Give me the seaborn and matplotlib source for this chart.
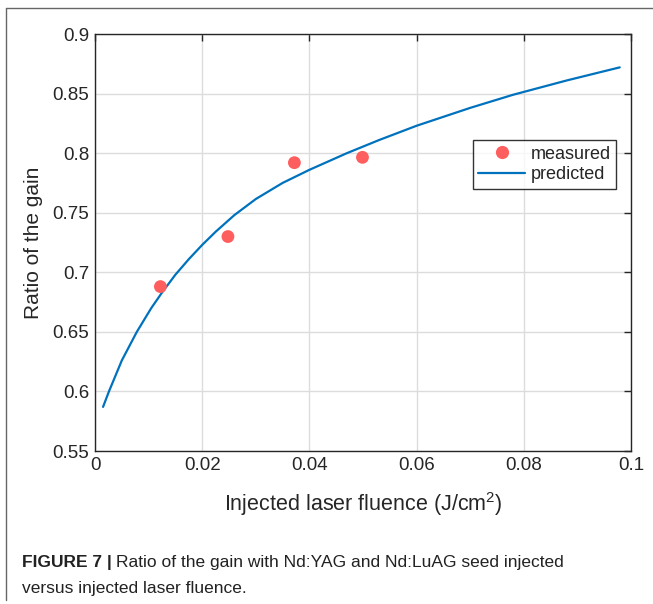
import matplotlib
matplotlib.use("Agg")
import matplotlib.pyplot as plt
import seaborn as sns
from matplotlib.lines import Line2D

# -----------------------------
# Data
# -----------------------------
measured_x = [0.0122, 0.0248, 0.0372, 0.0499]
measured_y = [0.688, 0.730, 0.792, 0.7965]

predicted_x = [0.0015, 0.0026, 0.005, 0.0078, 0.0105, 0.0125, 0.015, 0.0175,
               0.02, 0.0225, 0.026, 0.03, 0.035, 0.04, 0.047, 0.053, 0.06,
               0.07, 0.078, 0.088, 0.0979]
predicted_y = [0.587, 0.600, 0.626, 0.650, 0.670, 0.683, 0.698, 0.711,
               0.723, 0.734, 0.748, 0.7615, 0.775, 0.786, 0.800, 0.811, 0.823,
               0.838, 0.849, 0.861, 0.872]

x_ticks = [0, 0.02, 0.04, 0.06, 0.08, 0.1]
x_tick_labels = ["0", "0.02", "0.04", "0.06", "0.08", "0.1"]
y_ticks = [0.55, 0.6, 0.65, 0.7, 0.75, 0.8, 0.85, 0.9]
y_tick_labels = ["0.55", "0.6", "0.65", "0.7", "0.75", "0.8", "0.85", "0.9"]

# -----------------------------
# Style
# -----------------------------
sns.set_style("white")
plt.rcParams["font.family"] = ["Liberation Sans", "DejaVu Sans"]
plt.rcParams["mathtext.fontset"] = "custom"
plt.rcParams["mathtext.rm"] = "Liberation Sans"
plt.rcParams["mathtext.it"] = "Liberation Sans"

text_col = "#262626"

fig = plt.figure(figsize=(6.53, 6.04), dpi=100)
ax = fig.add_axes([0.1455, 0.2533, 0.8208, 0.6904])

sns.lineplot(x=predicted_x, y=predicted_y, ax=ax, color="#0072BD",
             linewidth=1.6, label="predicted", zorder=3)
sns.scatterplot(x=measured_x, y=measured_y, ax=ax, color="#FF5E5E",
                s=85, edgecolor="none", label="measured", zorder=4)

ax.set_xlim(0, 0.1)
ax.set_ylim(0.55, 0.9)
ax.set_xticks(x_ticks)
ax.set_xticklabels(x_tick_labels)
ax.set_yticks(y_ticks)
ax.set_yticklabels(y_tick_labels)

ax.grid(True, color="#dcdcdc", linewidth=1.0)
ax.set_axisbelow(True)
for sp in ax.spines.values():
    sp.set_color(text_col)
    sp.set_linewidth(1.0)
ax.tick_params(direction="in", length=5, width=1.0, colors=text_col,
               labelsize=13.5, top=True, right=True, pad=4)
for lab in ax.get_xticklabels() + ax.get_yticklabels():
    lab.set_color(text_col)

ax.set_xlabel("Injected laser fluence (J/cm$^2$)", fontsize=15.5,
              color=text_col, labelpad=12)
ax.set_ylabel("Ratio of the gain", fontsize=15, color=text_col, labelpad=7)

handles = [
    Line2D([], [], marker="o", linestyle="none", markersize=9.5,
           markerfacecolor="#FF5E5E", markeredgecolor="none"),
    Line2D([], [], color="#0072BD", linewidth=1.6),
]
leg = ax.legend(handles, ["measured", "predicted"], loc="upper right",
                bbox_to_anchor=(0.972, 0.745), fontsize=13, frameon=True,
                fancybox=False, handlelength=2.6, handletextpad=0.3,
                borderpad=0.3, labelspacing=0.2, borderaxespad=0)
leg.get_frame().set_edgecolor("#000000")
leg.get_frame().set_linewidth(1.0)
for t in leg.get_texts():
    t.set_color(text_col)

# -----------------------------
# Caption and border
# -----------------------------
fig.add_artist(Line2D([6 / 653, 1.0], [1 - 8 / 604, 1 - 8 / 604],
                      transform=fig.transFigure, color="#666666", linewidth=1.0))
fig.add_artist(Line2D([6 / 653, 6 / 653], [1 - 8 / 604, 1 - 600 / 604],
                      transform=fig.transFigure, color="#666666", linewidth=1.0))

cap_size = 12.5
bold = fig.text(22 / 653, 1 - 567 / 604, "FIGURE 7 |", fontsize=cap_size,
                fontweight="bold", color="#222222", va="baseline")
fig.canvas.draw()
bb = bold.get_window_extent()
x_next = (bb.x1 + 4) / fig.bbox.width
fig.text(x_next, 1 - 567 / 604,
         "Ratio of the gain with Nd:YAG and Nd:LuAG seed injected",
         fontsize=cap_size, color="#222222", va="baseline")
fig.text(22 / 653, 1 - 593 / 604, "versus injected laser fluence.",
         fontsize=cap_size, color="#222222", va="baseline")

plt.savefig("out.png", dpi=100)
